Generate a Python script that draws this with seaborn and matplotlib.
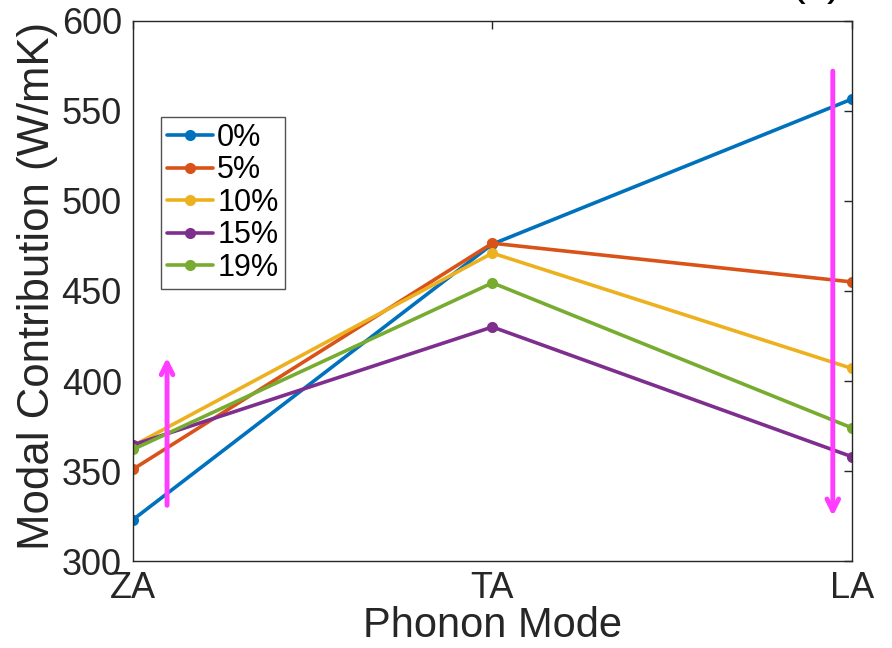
import matplotlib
matplotlib.use("Agg")
import matplotlib.pyplot as plt
import seaborn as sns
import pandas as pd

modes = ["ZA", "TA", "LA"]
strains = ["0%", "5%", "10%", "15%", "19%"]
v0 = [323, 476, 556.5]
v5 = [351, 476.5, 455]
v10 = [364, 471, 407]
v15 = [364.5, 430, 358]
v19 = [362, 454.5, 374]
colors = ["#0072BD", "#D95319", "#EDB120", "#7E2F8E", "#77AC30"]

rows = []
for s, vals in zip(strains, [v0, v5, v10, v15, v19]):
    for m, v in zip(modes, vals):
        rows.append({"mode": m, "strain": s, "value": v})
df = pd.DataFrame(rows)

sns.set_theme(style="white")
plt.rcParams['font.family'] = ['Liberation Sans', 'DejaVu Sans']
ink = "#262626"

fig = plt.figure(figsize=(8.92, 6.48), dpi=100)
ax = fig.add_axes([0.149, 0.134, 0.806, 0.834])

sns.lineplot(data=df, x="mode", y="value", hue="strain", hue_order=strains,
             palette=colors, marker="o", markersize=8, markeredgewidth=0,
             linewidth=2.6, sort=False, ax=ax)

ax.set_xlim(0, 2)
ax.set_ylim(300, 600)
ax.set_yticks([300, 350, 400, 450, 500, 550, 600])
ax.tick_params(axis="both", direction="in", length=6, width=1, colors=ink,
               labelsize=26, labelcolor=ink, top=True, right=True)
ax.tick_params(axis="y", pad=8)
ax.tick_params(axis="x", pad=7)
for sp in ax.spines.values():
    sp.set_color(ink)
    sp.set_linewidth(1.0)
    sp.set_visible(True)

ax.set_xlabel("Phonon Mode", fontsize=30, color=ink, labelpad=0)
ax.set_ylabel("Modal Contribution (W/mK)", fontsize=31.5, color=ink)
ax.yaxis.set_label_coords(-0.104, 0.51)

leg = ax.legend(loc="upper left", bbox_to_anchor=(0.039, 0.822), fontsize=22,
                frameon=True, fancybox=False, handlelength=1.5,
                handletextpad=0.14, labelspacing=0.08, borderpad=0.2,
                borderaxespad=0)
leg.get_frame().set_edgecolor(ink)
leg.get_frame().set_linewidth(1.0)
for t in leg.get_texts():
    t.set_color("black")

mag = "#FF3CFF"
ax.annotate("", xy=(0.095, 413), xytext=(0.095, 331),
            arrowprops=dict(arrowstyle="->,head_length=0.7,head_width=0.35",
                            color=mag, lw=3.5, shrinkA=0, shrinkB=0))
ax.annotate("", xy=(1.947, 325), xytext=(1.947, 572),
            arrowprops=dict(arrowstyle="->,head_length=0.7,head_width=0.35",
                            color=mag, lw=3.5, shrinkA=0, shrinkB=0))

fig.text(0.915, 1 + 5 / 648, "(c)", fontsize=32, ha="center", va="baseline",
         color="black")

fig.savefig("out.png", dpi=100, facecolor="white")
